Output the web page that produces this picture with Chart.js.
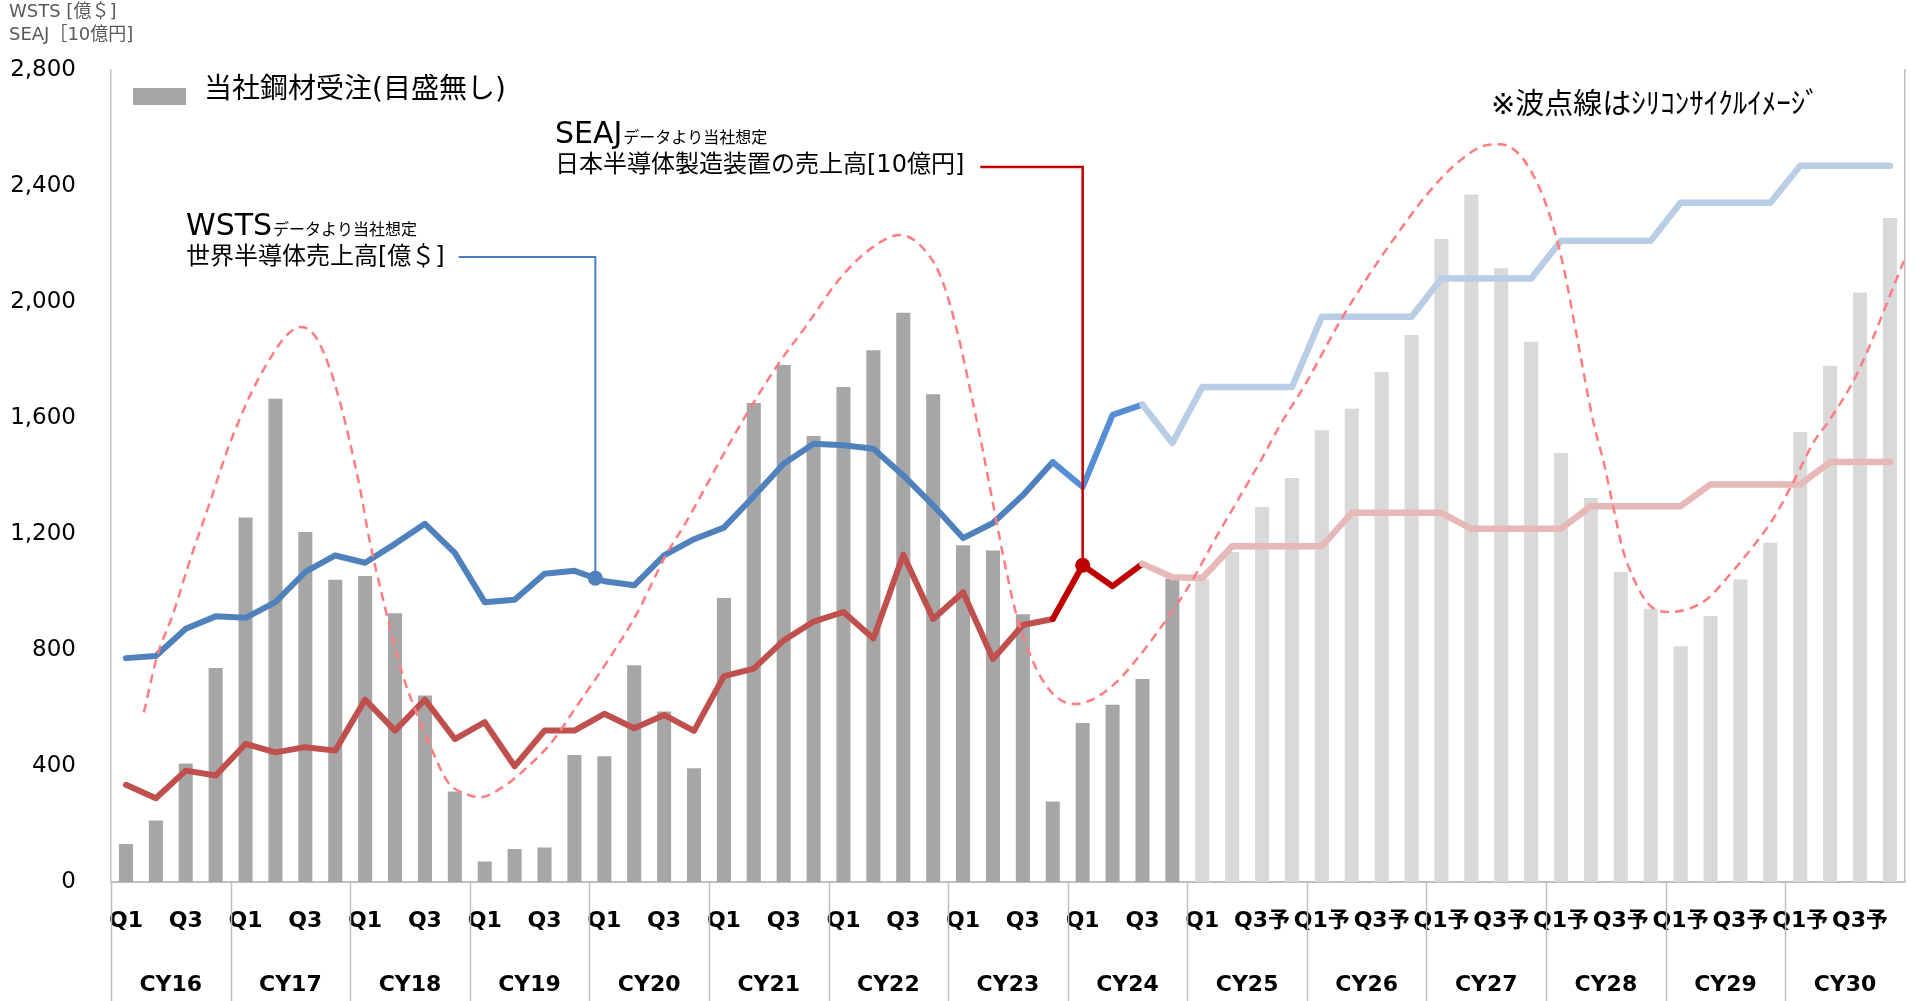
<!DOCTYPE html>
<html>
<head>
<meta charset="utf-8">
<script src="https://cdn.jsdelivr.net/npm/chart.js@4.4.1/dist/chart.umd.min.js"></script>
<style>
html,body{margin:0;padding:0;background:#fff;}
#wrap{width:1916px;height:1001px;position:relative;}
canvas{display:block;}
</style>
</head>
<body>
<div id="wrap"><canvas id="c" width="1916" height="1001"></canvas></div>
<script>
// ---------------- data ----------------
const years = ['CY16','CY17','CY18','CY19','CY20','CY21','CY22','CY23','CY24','CY25','CY26','CY27','CY28','CY29','CY30'];

const quarterLabels = [
  'Q1','','Q3','', 'Q1','','Q3','', 'Q1','','Q3','', 'Q1','','Q3','', 'Q1','','Q3','',
  'Q1','','Q3','', 'Q1','','Q3','', 'Q1','','Q3','', 'Q1','','Q3','',
  'Q1','','Q3予','', 'Q1予','','Q3予','', 'Q1予','','Q3予','', 'Q1予','','Q3予','',
  'Q1予','','Q3予','', 'Q1予','','Q3予',''
];

// 世界半導体売上高 [億$] (WSTS)
const wsts = [
  772, 779, 873, 916,   911, 965, 1069, 1126,  1101, 1166, 1235, 1135,  965, 973, 1063, 1073,
  1037, 1023, 1126, 1182,  1222, 1330, 1442, 1511,  1506, 1494, 1402, 1299,  1186, 1238, 1334, 1448,
  1362, 1611, 1646, 1514,  1707, 1707, 1707, 1707,  1949, 1949, 1949, 1949,  2081, 2081, 2081, 2081,
  2211, 2211, 2211, 2211,  2342, 2342, 2342, 2342,  2470, 2470, 2470, 2470
];

// 日本半導体製造装置の売上高 [10億円] (SEAJ)
const seaj = [
  335, 289, 384, 367,   476, 447, 465, 453,   629, 522, 629, 493,   551, 399, 522, 522,
  580, 530, 576, 521,   710, 736, 833, 898,   931, 840, 1128, 907,  999, 769, 886, 907,
  1092, 1020, 1097, 1051,  1048, 1158, 1158, 1158,  1158, 1273, 1273, 1273,  1273, 1218, 1218, 1218,
  1218, 1296, 1296, 1296,  1296, 1371, 1371, 1371,  1371, 1448, 1448, 1448
];

// 当社鋼材受注 (目盛無し) – read in left-axis-equivalent units
const orders = [
  131, 212, 409, 738,   1257, 1666, 1207, 1042,  1055, 927, 643, 312,   71, 114, 119, 438,
  434, 747, 588, 392,   979, 1652, 1783, 1538,  1707, 1834, 1963, 1682,  1161, 1143, 923, 278,
  548, 611, 700, 1046,  1046, 1138, 1293, 1393,  1558, 1632, 1759, 1886,  2217, 2371, 2116, 1863,
  1479, 1324, 1069, 942,  813, 917, 1043, 1170,  1552, 1780, 2033, 2290
];

// シリコンサイクル イメージ (dashed wave) : position in quarters, value
const cycleX = [0.60,1.05,1.56,2.14,2.81,3.37,3.81,4.26,4.82,5.38,5.88,6.38,6.82,7.16,7.49,7.83,8.16,8.60,9.23,9.75,
  10.27,10.77,11.41,11.81,12.70,13.35,14.24,15.12,16.02,17.06,18.06,18.70,19.42,20.09,20.87,21.87,22.77,23.88,24.99,25.89,
  26.56,27.23,27.78,28.23,28.67,29.01,29.34,29.73,30.12,30.57,31.13,31.74,32.35,33.13,33.91,34.58,35.14,35.70,36.37,37.15,
  37.93,38.60,39.49,40.60,41.50,42.50,43.50,44.51,45.51,45.95,46.62,47.18,47.62,48.07,48.52,49.08,49.45,49.76,50.06,50.43,
  50.92,51.54,52.27,52.89,53.62,54.36,55.10,55.83,56.45,56.94,57.89,59.50];
const cycleY = [585,781,920,1109,1310,1483,1598,1701,1805,1886,1914,1874,1770,1655,1517,1356,1172,975,723,575,
  447,344,302,292,334,389,482,613,748,920,1127,1235,1368,1494,1632,1794,1920,2081,2190,2231,
  2196,2093,1908,1701,1483,1299,1126,942,816,712,637,614,631,689,781,873,954,1046,1172,1310,
  1448,1575,1724,1932,2081,2231,2369,2478,2541,2544,2507,2415,2300,2127,1886,1587,1437,1287,1149,1046,
  959,931,942,976,1057,1149,1253,1391,1517,1587,1750,2150];

const yTicks = [0, 400, 800, 1200, 1600, 2000, 2400, 2800];
const forecastStart = 34;      // lines turn pale from this quarter
const highlightStart = 31;     // recent quarters in brighter colour
const barForecastStart = 36;   // bars turn pale from this quarter
const seajDotIndex = 32;       // SEAJ callout point
const wstsCalloutPos = 15.7;   // WSTS callout point (between quarters)
const legendText = '当社鋼材受注(目盛無し)';

// ---------------- styling ----------------
const LAT = '"DejaVu Sans", "Noto Sans CJK JP", sans-serif';
const JP = '"DejaVu Sans", "Noto Sans CJK JP", sans-serif';
const C = {
  blue: '#4F81BD', blueHi: '#558ED5', blueLt: '#B9CDE5',
  red: '#C0504D', redHi: '#C00000', redLt: '#E6B9B8',
  bar: '#A6A6A6', barLt: '#D9D9D9', wave: '#FF7C80', axis: '#BFBFBF'
};

const wi = Math.floor(wstsCalloutPos);
const wf = wstsCalloutPos - wi;
const wstsCalloutVal = wsts[wi] + (wsts[wi + 1] - wsts[wi]) * wf;

const annot = {
  id: 'annot',
  afterDraw(chart) {
    const g = chart.ctx;
    const xs = chart.scales.x, xl = chart.scales.xl, ys = chart.scales.y;
    const ca = chart.chartArea;
    g.save();
    // year separators below the axis
    g.strokeStyle = C.axis; g.lineWidth = 1.5;
    for (let k = 0; k < years.length; k++) {
      const px = Math.round(xl.getPixelForValue(k * 4 - 0.5)) + 0.5;
      g.beginPath(); g.moveTo(px, ca.bottom); g.lineTo(px, chart.height); g.stroke();
    }
    // axis titles
    g.fillStyle = '#595959'; g.textBaseline = 'middle'; g.textAlign = 'left';
    g.font = '18px ' + JP;
    g.fillText('WSTS [億＄]', 9, 12);
    g.fillText('SEAJ［10億円]', 9, 35);

    // legend (bar series)
    g.fillStyle = C.bar;
    g.fillRect(ca.left + 22, ca.top + 18, 53, 17);
    g.fillStyle = '#000';
    g.font = '28px ' + JP;
    g.fillText(legendText, ca.left + 93, ca.top + 21);

    // WSTS callout
    g.textBaseline = 'alphabetic';
    g.font = '30px ' + LAT;
    g.fillText('WSTS', 186, 235);
    let w = g.measureText('WSTS').width;
    g.font = '16px ' + JP;
    g.fillText('データより当社想定', 186 + w + 1, 235);
    g.textBaseline = 'middle';
    g.font = '24px ' + JP;
    const t1 = '世界半導体売上高[億＄]';
    g.fillText(t1, 186, 258);
    const bx0 = 186 + g.measureText(t1).width + 14;
    const bpx = xl.getPixelForValue(wstsCalloutPos), bpy = ys.getPixelForValue(wstsCalloutVal);
    g.strokeStyle = '#4A7EBB'; g.lineWidth = 2;
    g.beginPath(); g.moveTo(bx0, 257); g.lineTo(bpx, 257); g.lineTo(bpx, bpy); g.stroke();

    // SEAJ callout
    g.textBaseline = 'alphabetic';
    g.font = '30px ' + LAT;
    g.fillText('SEAJ', 555, 143);
    w = g.measureText('SEAJ').width;
    g.font = '16px ' + JP;
    g.fillText('データより当社想定', 555 + w + 1, 143);
    g.textBaseline = 'middle';
    g.font = '24px ' + JP;
    const t2 = '日本半導体製造装置の売上高[10億円]';
    g.fillText(t2, 555, 166);
    const rx0 = 555 + g.measureText(t2).width + 16;
    const rpx = xs.getPixelForValue(seajDotIndex), rpy = ys.getPixelForValue(seaj[seajDotIndex]);
    g.strokeStyle = C.redHi; g.lineWidth = 2.5;
    g.beginPath(); g.moveTo(rx0, 167); g.lineTo(rpx, 167); g.lineTo(rpx, rpy); g.stroke();

    // note
    g.font = '29px ' + JP;
    g.fillText('※波点線はｼﾘｺﾝｻｲｸﾙｲﾒｰｼﾞ', 1491, 106);
    g.restore();
  }
};

new Chart(document.getElementById('c'), {
  type: 'bar',
  data: {
    labels: quarterLabels,
    datasets: [
      {
        type: 'line', label: 'silicon cycle', xAxisID: 'xl', yAxisID: 'y',
        data: cycleX.map((x, i) => ({ x: x, y: cycleY[i] })),
        borderColor: C.wave, borderWidth: 2.5, borderDash: [9, 6],
        pointRadius: 0, cubicInterpolationMode: 'monotone', order: 1
      },
      {
        type: 'line', label: 'WSTS', xAxisID: 'x', yAxisID: 'y', data: wsts,
        borderColor: C.blue, borderWidth: 6, pointRadius: 0, tension: 0,
        borderJoinStyle: 'round', borderCapStyle: 'round',
        segment: {
          borderColor: c => c.p0DataIndex >= forecastStart ? C.blueLt : (c.p0DataIndex >= highlightStart ? C.blueHi : C.blue),
          borderWidth: c => c.p0DataIndex >= forecastStart ? 6.5 : 6
        },
        order: 3
      },
      {
        type: 'line', label: 'WSTS callout', xAxisID: 'xl', yAxisID: 'y',
        data: [{ x: wstsCalloutPos, y: wstsCalloutVal }],
        showLine: false, pointRadius: 7.5, pointBackgroundColor: C.blue, pointBorderWidth: 0, order: 2
      },
      {
        type: 'line', label: 'SEAJ', xAxisID: 'x', yAxisID: 'y', data: seaj,
        borderColor: C.red, borderWidth: 6, tension: 0,
        borderJoinStyle: 'round', borderCapStyle: 'round',
        pointRadius: c => c.dataIndex === seajDotIndex ? 7.5 : 0,
        pointBackgroundColor: C.redHi, pointBorderWidth: 0,
        segment: {
          borderColor: c => c.p0DataIndex >= forecastStart ? C.redLt : (c.p0DataIndex >= highlightStart ? C.redHi : C.red),
          borderWidth: c => c.p0DataIndex >= forecastStart ? 6.5 : 6
        },
        order: 2
      },
      {
        type: 'bar', label: legendText, xAxisID: 'x', yAxisID: 'y2', data: orders,
        backgroundColor: c => (c.dataIndex >= barForecastStart ? C.barLt : C.bar),
        borderWidth: 0, grouped: false, barPercentage: 0.47, categoryPercentage: 1, order: 5
      }
    ]
  },
  options: {
    responsive: false, animation: false, devicePixelRatio: 1,
    layout: { padding: { left: 0, right: 11, top: 70, bottom: 0 } },
    scales: {
      x: {
        type: 'category', position: 'bottom', weight: 0, offset: true,
        grid: { display: false, drawTicks: false },
        border: { display: true, color: C.axis, width: 2 },
        ticks: { autoSkip: false, maxRotation: 0, minRotation: 0, padding: 26, color: '#000',
                 font: { family: LAT, size: 22, weight: 'bold' } },
        afterFit: s => { s.height = 62; }
      },
      x2: {
        type: 'category', labels: years, position: 'bottom', weight: 1, offset: true,
        grid: { display: false, drawTicks: false }, border: { display: false },
        ticks: { autoSkip: false, maxRotation: 0, minRotation: 0, padding: 28, color: '#000',
                 font: { family: LAT, size: 22, weight: 'bold' } },
        afterFit: s => { s.height = 57; }
      },
      xl: { type: 'linear', display: false, offset: false, grid: { offset: false }, min: -0.5, max: 59.5 },
      y: {
        type: 'linear', position: 'left', min: 0, max: 2800,
        afterBuildTicks: s => { s.ticks = yTicks.map(v => ({ value: v })); },
        grid: { display: false, drawTicks: false },
        border: { display: true, color: C.axis, width: 1.5 },
        ticks: { padding: 35, color: '#000', font: { family: LAT, size: 23 },
                 callback: v => v.toLocaleString('en-US') },
        afterFit: s => { s.width = 111; }
      },
      y2: {
        type: 'linear', position: 'right', min: 0, max: 2800,
        grid: { display: false, drawTicks: false },
        border: { display: true, color: C.axis, width: 1.5 },
        ticks: { display: false },
        afterFit: s => { s.width = 0; }
      }
    },
    plugins: {
      legend: { display: false },
      tooltip: { enabled: false }
    }
  },
  plugins: [annot]
});
</script>
</body>
</html>
